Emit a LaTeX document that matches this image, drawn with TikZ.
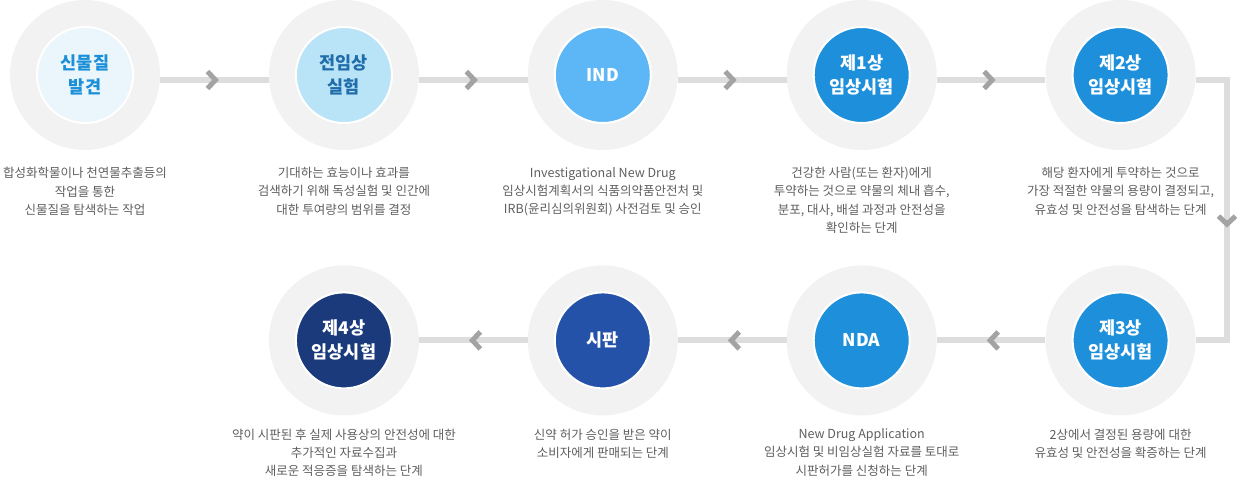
\documentclass[tikz,border=0pt]{standalone}
\usepackage{fontspec}
\setmainfont{Noto Sans CJK KR}
\usetikzlibrary{positioning,decorations.markings}

\definecolor{ringgray}{HTML}{F2F2F2}
\definecolor{linegray}{HTML}{DDDDDD}
\definecolor{chevgray}{HTML}{A3A3A3}
\definecolor{desctext}{HTML}{5E5E5E}
\definecolor{paleblue}{HTML}{EAF6FC}
\definecolor{lightblue}{HTML}{B9E3F6}
\definecolor{skyblue}{HTML}{5DB7F6}
\definecolor{midblue}{HTML}{1E90DB}
\definecolor{royalblue}{HTML}{2452A8}
\definecolor{navyblue}{HTML}{1A3A7C}
\definecolor{titleblue}{HTML}{1B8FD8}
\definecolor{titledark}{HTML}{1F6DAA}

\tikzset{
  disc/.style={circle, fill=ringgray, minimum size=150pt, inner sep=0pt},
  core/.style={circle, fill=#1, draw=white, line width=2pt, minimum size=96pt,
    inner sep=0pt, text=white, align=center,
    font=\fontsize{17.5}{24}\selectfont\bfseries},
  desc/.style={align=center, text=desctext, inner sep=0pt,
    font=\fontsize{12.5}{18.2}\selectfont},
  chevron/.style={draw=chevgray, line width=5pt},
  link/.style={draw=linegray, line width=6pt, postaction={decorate},
    decoration={markings, mark=at position #1 with
      {\draw[chevron] (-7,-8.5) -- (1,0) -- (-7,8.5);}}},
  link/.default=0.5
}

\begin{document}
\begin{tikzpicture}[x=1pt, y=-1pt]

\def\yt{75} % top row
\def\gap{108.5pt} % between rings
\def\drop{115pt} % top row to bottom row
\def\lo{-5pt} % top line below centres

\useasboundingbox (0,0) rectangle (1237,478);

% rings
\node[disc] (c1) at (85,\yt) {};
\node[disc, right=\gap of c1] (c2) {};
\node[disc, right=\gap of c2] (c3) {};
\node[disc, right=\gap of c3] (c4) {};
\node[disc, right=\gap of c4] (c5) {};
\node[disc, below=\drop of c5] (c6) {};
\node[disc, left=\gap of c6] (c7) {};
\node[disc, left=\gap of c7] (c8) {};
\node[disc, left=\gap of c8] (c9) {};

\coordinate (turn) at (1227,80);

% connectors
\draw[link] ([yshift=\lo]c1.east) -- ([yshift=\lo]c2.west);
\draw[link] ([yshift=\lo]c2.east) -- ([yshift=\lo]c3.west);
\draw[link] ([yshift=\lo]c3.east) -- ([yshift=\lo]c4.west);
\draw[link] ([yshift=\lo]c4.east) -- ([yshift=\lo]c5.west);
\draw[link=0.54] ([yshift=\lo]c5.east) -- (turn) |- (c6.east);
\draw[link] (c6.west) -- (c7.east);
\draw[link] (c7.west) -- (c8.east);
\draw[link] (c8.west) -- (c9.east);

% steps
\node[core=paleblue, text=titleblue] (p1) at (c1) {신물질\\발견};
\node[core=lightblue, text=titledark] (p2) at (c2) {전임상\\실험};
\node[core=skyblue] (p3) at (c3) {IND};
\node[core=midblue] (p4) at (c4) {제1상\\임상시험};
\node[core=midblue] (p5) at (c5) {제2상\\임상시험};
\node[core=midblue] (p6) at (c6) {제3상\\임상시험};
\node[core=midblue] (p7) at (c7) {NDA};
\node[core=royalblue] (p8) at (c8) {시판};
\node[core=navyblue] (p9) at (c9) {제4상\\임상시험};

% descriptions
\node[desc, below=17pt of c1] (d1) {합성화학물이나 천연물추출등의\\작업을 통한\\신물질을 탐색하는 작업};
\node[desc, below=17pt of c2] (d2) {기대하는 효능이나 효과를\\검색하기 위해 독성실험 및 인간에\\대한 투여량의 범위를 결정};
\node[desc, below=17pt of c3] (d3) {Investigational New Drug\\임상시험계획서의 식품의약품안전처 및\\IRB(윤리심의위원회) 사전검토 및 승인};
\node[desc, below=17pt of c4] (d4) {건강한 사람(또는 환자)에게\\투약하는 것으로 약물의 체내 흡수,\\분포, 대사, 배설 과정과 안전성을\\확인하는 단계};
\node[desc, below=17pt of c5] (d5) {해당 환자에게 투약하는 것으로\\가장 적절한 약물의 용량이 결정되고,\\유효성 및 안전성을 탐색하는 단계};
\node[desc, below=13pt of c6] (d6) {2상에서 결정된 용량에 대한\\유효성 및 안전성을 확증하는 단계};
\node[desc, below=13pt of c7] (d7) {New Drug Application\\임상시험 및 비임상실험 자료를 토대로\\시판허가를 신청하는 단계};
\node[desc, below=13pt of c8] (d8) {신약 허가 승인을 받은 약이\\소비자에게 판매되는 단계};
\node[desc, below=13pt of c9] (d9) {약이 시판된 후 실제 사용상의 안전성에 대한\\추가적인 자료수집과\\새로운 적응증을 탐색하는 단계};

\end{tikzpicture}
\end{document}
